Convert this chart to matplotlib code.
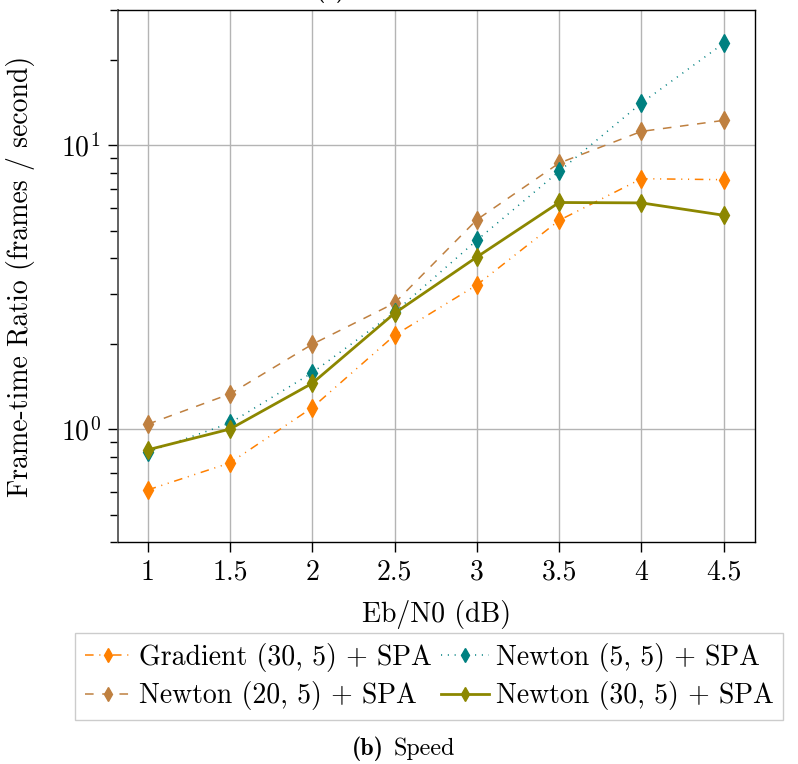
import matplotlib
matplotlib.use("Agg")
import matplotlib.pyplot as plt
from matplotlib.ticker import FixedLocator, NullFormatter, LogLocator

# Eb/N0 sweep and measured frame-time ratios (frames / second)
snr_db = [1, 1.5, 2, 2.5, 3, 3.5, 4, 4.5]
gradient_30_5 = [0.61, 0.76, 1.19, 2.14, 3.22, 5.44, 7.63, 7.57]
newton_20_5 = [1.04, 1.33, 1.99, 2.78, 5.47, 8.66, 11.2, 12.25]
newton_5_5 = [0.83, 1.05, 1.58, 2.58, 4.63, 8.10, 14.1, 22.9]
newton_30_5 = [0.845, 1.0, 1.45, 2.56, 4.04, 6.29, 6.27, 5.67]

x_tick_labels = ["1", "1.5", "2", "2.5", "3", "3.5", "4", "4.5"]
series_labels = [
    "Gradient (30, 5) + SPA",
    "Newton (20, 5) + SPA",
    "Newton (5, 5) + SPA",
    "Newton (30, 5) + SPA",
]

plt.rcParams["font.family"] = "serif"
plt.rcParams["font.serif"] = ["cmr10"]
plt.rcParams["mathtext.fontset"] = "cm"
plt.rcParams["axes.formatter.use_mathtext"] = True
plt.rcParams["lines.scale_dashes"] = False

FS = 20
CAP_FS = 17.3

fig = plt.figure(figsize=(7.98, 7.64), dpi=100)
ax = fig.add_axes([118 / 798, 1 - 542 / 764, 637 / 798, 532 / 764])

styles = [
    dict(color="#ff8000", lw=1.1, ls=(0, (6.2, 4.1, 0.8, 4.1, 0.8, 4.1))),
    dict(color="#bf8040", lw=1.1, ls=(0, (6.2, 6.2))),
    dict(color="#008080", lw=1.1, ls=(0, (0.8, 4.1))),
    dict(color="#8c8700", lw=2.0, ls="-"),
]
series = [gradient_30_5, newton_20_5, newton_5_5, newton_30_5]

handles = []
for vals, st, lab in zip(series, styles, series_labels):
    h, = ax.plot(snr_db, vals, marker="d", markersize=9,
                 markerfacecolor=st["color"], markeredgecolor=st["color"],
                 label=lab, **st)
    handles.append(h)

ax.set_yscale("log")
ax.set_xlim(0.82, 4.69)
ax.set_ylim(0.4, 30)

ax.set_xticks(snr_db)
ax.set_xticklabels(x_tick_labels)
ax.yaxis.set_major_locator(FixedLocator([1, 10]))
ax.set_yticklabels([r"$10^{0}$", r"$10^{1}$"])
ax.yaxis.set_minor_locator(LogLocator(base=10, subs=range(2, 10)))
ax.yaxis.set_minor_formatter(NullFormatter())

ax.tick_params(axis="both", which="major", labelsize=FS, length=7.5,
               width=1.0, pad=5, direction="out")
ax.tick_params(axis="y", which="minor", length=6, width=1.0, direction="out")
ax.tick_params(top=False, right=False, which="both")

ax.grid(True, which="major", color="#b4b4b4", lw=1.0)
ax.set_axisbelow(True)
for side in ["top", "right", "bottom"]:
    ax.spines[side].set_color("black")
    ax.spines[side].set_linewidth(1.0)
ax.spines["left"].set_color("#555555")
ax.spines["left"].set_linewidth(1.3)

ax.set_xlabel("Eb/N0 (dB)", fontsize=FS)
ax.xaxis.set_label_coords(0.5, -(600 - 542) / 532)
ax.set_ylabel("Frame-time Ratio (frames / second)", fontsize=FS)
ax.yaxis.set_label_coords(-(118 - 35) / 637, 0.5)

leg = fig.legend(handles=handles, loc="upper center", ncol=2,
                 bbox_to_anchor=(429 / 798, 1 - 633 / 764),
                 fontsize=FS, frameon=True, fancybox=False,
                 edgecolor="#cccccc", framealpha=1.0, markerscale=0.8,
                 handlelength=1.7, handletextpad=0.25, columnspacing=0.35,
                 borderpad=0.35, labelspacing=0.35, borderaxespad=0)
leg.get_frame().set_linewidth(1.0)

# subcaption of this panel, bold label followed by plain text
fig.text(352 / 798, 9 / 764, "(b)", family="cmb10", ha="left",
         va="baseline", fontsize=CAP_FS)
fig.text(394 / 798, 9 / 764, "Speed", ha="left", va="baseline",
         fontsize=CAP_FS)
# tail of the previous panel's subcaption at the very top
fig.text(331 / 798, 1 + 3 / 764, "(a)", family="cmb10", ha="center",
         va="baseline", fontsize=CAP_FS)

fig.savefig("out.png", dpi=100)
